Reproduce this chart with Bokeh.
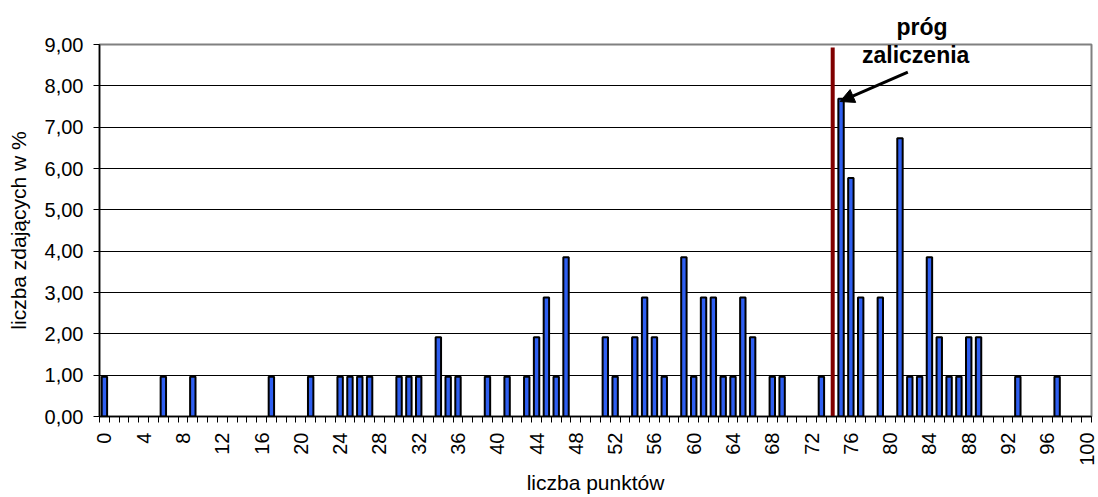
from bokeh.plotting import figure
from bokeh.models import (ColumnDataSource, FixedTicker, CustomJSTickFormatter,
                          Range1d, Label, Arrow, NormalHead, Title)
from bokeh.embed import file_html
from bokeh.resources import INLINE
import math

# ---- data ----
punkty = [0, 6, 9, 17, 21, 24, 25, 26, 27, 30, 31, 32,
          34, 35, 36, 39, 41, 43, 44, 45, 46, 47,
          51, 52, 54, 55, 56, 57, 59, 60, 61, 62, 63, 64, 65, 66,
          68, 69, 73,
          75, 76, 77, 79, 81, 82, 83, 84, 85, 86, 87, 88, 89, 93, 97]
procent = [0.96, 0.96, 0.96, 0.96, 0.96, 0.96, 0.96, 0.96, 0.96, 0.96, 0.96, 0.96,
           1.92, 0.96, 0.96, 0.96, 0.96, 0.96, 1.92, 2.88, 0.96, 3.85,
           1.92, 0.96, 1.92, 2.88, 1.92, 0.96, 3.85, 0.96, 2.88, 2.88, 0.96, 0.96, 2.88, 1.92,
           0.96, 0.96, 0.96,
           7.69, 5.77, 2.88, 2.88, 6.73, 0.96, 0.96, 3.85, 1.92, 0.96, 0.96, 1.92, 1.92, 0.96, 0.96]
x_ticks = list(range(0, 101, 4))
y_ticks = list(range(0, 10))
prog_x = 74.15          # threshold line position (between categories 74 and 75)
prog_label = ["próg", "zaliczenia"]

FONT = "Liberation Sans"
TICK_FS = "20px"
LAB_FS = "21px"

p = figure(width=1098, height=497, output_backend="svg", toolbar_location=None,
           x_range=Range1d(-0.5, 100.5), y_range=Range1d(0, 9),
           min_border_left=99, min_border_right=7, min_border_top=44, min_border_bottom=81)
p.outline_line_color = "#808080"
p.outline_line_width = 2
p.background_fill_color = "white"
p.border_fill_color = "white"

src = ColumnDataSource(dict(x=punkty, top=procent))
p.vbar(x="x", top="top", bottom=0, width=0.55, source=src,
       fill_color="#2f5ff0", line_color="black", line_width=2)

# threshold line
p.segment(x0=[prog_x], x1=[prog_x], y0=[0], y1=[8.93], line_color="#800000", line_width=4)

# axes
xa = p.xaxis[0]
xa.ticker = FixedTicker(ticks=x_ticks, minor_ticks=[i - 0.5 for i in range(102)])
xa.major_tick_out = 0
xa.major_tick_in = 0
xa.minor_tick_out = 6
xa.minor_tick_in = 0
xa.minor_tick_line_color = "black"
xa.axis_line_color = "black"
xa.axis_line_width = 1.5
xa.major_label_orientation = math.pi / 2
xa.major_label_standoff = 10
xa.major_label_text_font = FONT
xa.major_label_text_font_size = TICK_FS
xa.major_label_text_color = "black"
xa.axis_label = "liczba punktów"
xa.axis_label_text_font = FONT
xa.axis_label_text_font_size = LAB_FS
xa.axis_label_text_font_style = "normal"
xa.axis_label_text_color = "black"
xa.axis_label_standoff = 2

ya = p.yaxis[0]
ya.ticker = FixedTicker(ticks=y_ticks, minor_ticks=[])
ya.formatter = CustomJSTickFormatter(code="return tick.toFixed(2).replace('.', ',');")
ya.major_tick_out = 6
ya.major_tick_in = 0
ya.axis_line_color = "black"
ya.axis_line_width = 1.5
ya.major_label_standoff = 10
ya.major_label_text_font = FONT
ya.major_label_text_font_size = TICK_FS
ya.major_label_text_color = "black"
ya.axis_label = "liczba zdających w %"
ya.axis_label_text_font = FONT
ya.axis_label_text_font_size = LAB_FS
ya.axis_label_text_font_style = "normal"
ya.axis_label_text_color = "black"
ya.axis_label_standoff = 12

p.xgrid.grid_line_color = None
p.ygrid.grid_line_color = "black"
p.ygrid.grid_line_width = 1

# annotation
p.add_layout(Title(text=prog_label[0], align="left", offset=797, standoff=10,
                   text_font=FONT, text_font_size="23px", text_font_style="bold",
                   text_color="black"), "above")
p.add_layout(Label(x=82.6, y=8.74, text=prog_label[1], text_align="center", text_baseline="middle",
                   text_font=FONT, text_font_size="23px", text_font_style="bold", text_color="black"))
p.add_layout(Arrow(x_start=81.8, y_start=8.33, x_end=74.9, y_end=7.62, line_width=3, line_color="black",
                   end=NormalHead(size=14, fill_color="black", line_color="black")))

open("out.html", "w").write(file_html(p, INLINE))
